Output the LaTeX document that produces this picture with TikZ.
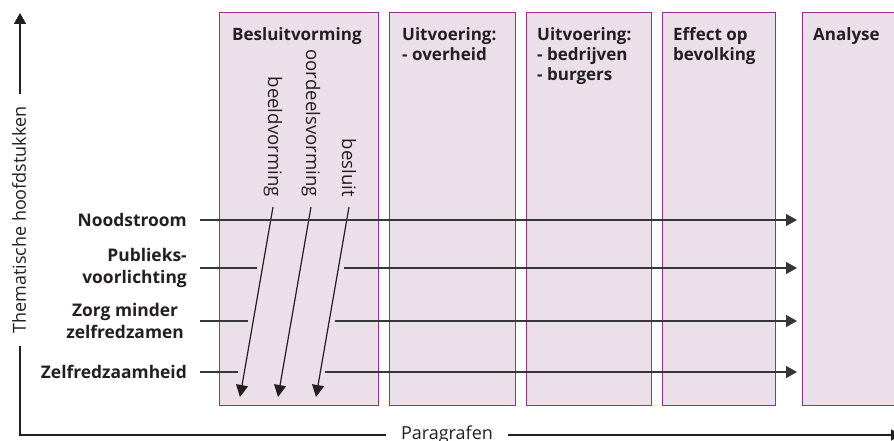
\documentclass[tikz,border=0pt]{standalone}
\usepackage{fontspec}
\setmainfont{Open Sans}
\usetikzlibrary{arrows.meta}
\definecolor{boxfill}{RGB}{235,224,234}
\definecolor{boxline}{RGB}{150,45,145}
\definecolor{ink}{RGB}{35,31,32}
\definecolor{linegray}{RGB}{55,55,55}
\begin{document}
\begin{tikzpicture}[x=1pt,y=-1pt,
  phase/.style={draw=boxline, fill=boxfill, line width=1.2pt, anchor=north west, inner sep=0, minimum height=393pt},
  head/.style={anchor=north west, inner sep=0, align=left, font=\fontsize{17}{20}\selectfont\bfseries, text=ink},
  lab/.style={anchor=east, inner sep=0, font=\fontsize{17.4}{22}\selectfont\bfseries, text=ink},
  rot/.style={rotate=-90, anchor=east, inner sep=0, font=\fontsize{18.6}{20}\selectfont, text=ink},
  axlab/.style={inner sep=0, font=\fontsize{18}{20}\selectfont, text=ink},
  hline/.style={draw=linegray, line width=1.4pt},
  harr/.style={hline, -{Triangle[length=11pt,width=12pt]}, shorten >=5pt},
  darr/.style={draw=ink, line width=1.2pt, -{Triangle[length=12pt,width=12pt]}},
  axis/.style={draw=ink, line width=1.4pt}
]
\useasboundingbox (0,0) rectangle (894,441);

% phase boxes
\node[phase, minimum width=159pt] (b1) at (219,12) {};
\node[phase, minimum width=126pt] (b2) at (389,12) {};
\node[phase, minimum width=125pt] (b3) at (526,12) {};
\node[phase, minimum width=113pt] (b4) at (662,12) {};
\node[phase, minimum width=110pt] (b5) at (802,12) {};

% headers
\node[head] (h1) at ([xshift=13pt,yshift=-15pt]b1.north west) {Besluitvorming};
\node[head] (h2) at ([xshift=13pt,yshift=-15pt]b2.north west) {Uitvoering:\\- overheid};
\node[head] (h3) at ([xshift=11pt,yshift=-15pt]b3.north west) {Uitvoering:\\- bedrijven\\- burgers};
\node[head] (h4) at ([xshift=11pt,yshift=-15pt]b4.north west) {Effect op\\bevolking};
\node[head] (h5) at ([xshift=11pt,yshift=-15pt]b5.north west) {Analyse};

% rotated stage labels
\node[rot] (bv) at (273,197) {beeldvorming};
\node[rot] (ov) at (311,197) {oordeelsvorming};
\node[rot] (bs) at (349,197) {besluit};
\coordinate (t1) at (240,397);
\coordinate (t2) at (278,397);
\coordinate (t3) at (316,397);
\draw[darr] ([yshift=-10pt]bv.east) -- (t1);
\draw[darr] ([yshift=-10pt]ov.east) -- (t2);
\draw[darr] ([yshift=-10pt]bs.east) -- (t3);

% row labels
\node[lab] (n1) at (187,220) {Noodstroom};
\node[lab, align=right] (n2) at (187,268) {Publieks-\\voorlichting};
\node[lab, align=center] (n3) at (184,321) {Zorg minder\\zelfredzamen};
\node[lab] (n4) at (187,372) {Zelfredzaamheid};

\coordinate (g2a) at (257,268); \coordinate (g2b) at (344,268);
\coordinate (g3a) at (248,321); \coordinate (g3b) at (335,321);
\coordinate (g4a) at (238,372); \coordinate (g4b) at (325,372);

\draw[harr] ([xshift=13pt]n1.east) -- (n1.east -| b5.west);
\draw[hline] ([xshift=13pt]n2.east) -- (g2a);
\draw[harr] (g2b) -- (g2b -| b5.west);
\draw[hline] ([xshift=16pt]n3.east) -- (g3a);
\draw[harr] (g3b) -- (g3b -| b5.west);
\draw[hline] ([xshift=13pt]n4.east) -- (g4a);
\draw[harr] (g4b) -- (g4b -| b5.west);

% axes
\coordinate (corner) at (20,435);
\coordinate (ytop) at (20,13);
\coordinate (xend) at (901,435);
\node[axlab, rotate=90, outer xsep=12pt] (yl) at (19,220) {Thematische hoofdstukken};
\node[axlab, anchor=base, outer xsep=15pt] (xl) at (447,439) {Paragrafen};
\draw[axis] (corner |- yl.west) -- (corner) -- (corner -| xl.west);
\draw[axis, -{Triangle[length=11pt,width=12pt]}] (corner |- yl.east) -- (ytop);
\draw[axis, -{Triangle[length=10pt,width=11pt]}] (corner -| xl.east) -- (xend);
\end{tikzpicture}
\end{document}
